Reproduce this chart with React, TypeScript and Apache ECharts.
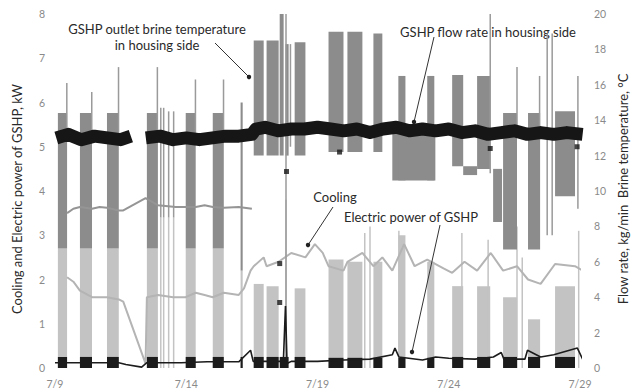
import React, { useEffect, useRef } from 'react';
import * as echarts from 'echarts';

// x values are days counted from 7/9 (0 = 7/9, 20 = 7/29)
const xTickLabels: Record<number, string> = { 0: '7/9', 5: '7/14', 10: '7/19', 15: '7/24', 20: '7/29' };

// GSHP outlet brine temperature (°C, right axis): cycling envelopes [startDay, endDay, low, high]
const brineBlocks: number[][] = [
  [0.11, 0.46, 6.75, 14.4], [0.95, 1.41, 6.75, 14.4], [1.98, 2.43, 6.75, 14.4],
  [3.5, 3.92, 6.75, 14.4], [4.98, 5.36, 6.75, 14.4], [6.01, 6.43, 6.75, 14.4],
  [7.07, 7.15, 5.5, 15.0],
  [7.57, 7.95, 12.0, 18.5], [8.06, 8.52, 12.0, 18.5], [8.56, 8.71, 12.0, 20.0],
  [8.78, 8.9, 12.0, 18.3], [9.13, 9.54, 12.0, 18.4], [10.42, 10.99, 12.2, 19.0],
  [11.14, 11.71, 12.2, 19.0], [12.13, 12.47, 12.2, 18.9],
  [12.85, 14.49, 10.6, 13.5], [13.08, 13.35, 10.6, 16.5], [14.18, 14.45, 10.6, 16.5],
  [15.13, 15.55, 11.4, 16.55], [15.55, 16.08, 10.9, 11.4], [16.08, 16.58, 11.25, 16.5],
  [16.69, 17.03, 8.25, 11.25], [17.07, 17.6, 6.7, 14.4], [18.02, 18.48, 6.7, 14.4],
  [19.05, 19.81, 9.7, 14.5],
];
// short spikes of the brine temperature [day, low, high]
const brineSpikes: number[][] = [
  [0.45, 13, 16.1], [1.4, 13, 15.6], [2.42, 13, 17.0], [3.9, 13, 17.0],
  [4.03, 8.5, 14.7], [4.14, 8.5, 14.7], [4.33, 8.5, 14.5], [4.52, 8.5, 14.5],
  [5.35, 13, 16.3], [6.42, 13, 16.3], [8.8, 0, 20], [8.97, 12.5, 18.3],
  [16.58, 11, 20], [17.6, 13, 17], [18.46, 13, 16.5], [18.75, 7.5, 18.9],
  [18.94, 7.5, 18.9], [19.92, 9, 16.5], [20.05, 9, 16.5],
];
// brine temperature while the GSHP is idle (°C)
const brineIdle: number[][] = [
  [0.46, 8.75], [0.7, 9.0], [0.95, 9.1], [1.41, 9.0], [1.7, 9.1], [1.98, 9.05], [2.43, 8.9],
  [2.6, 8.9], [3.45, 9.6], [3.92, 9.2], [4.6, 9.1], [4.98, 9.1], [5.36, 9.1], [5.7, 9.2],
  [6.01, 9.1], [6.43, 9.05], [7.0, 9.1], [7.5, 9.0],
];

// GSHP flow rate in housing side (kg/min, right axis)
const flowRate: (number[] | null)[] = [
  [0.05, 13.0], [0.5, 13.2], [1.0, 12.9], [1.5, 13.1], [2.0, 13.0], [2.5, 12.9], [2.89, 13.1], null,
  [3.46, 13.0], [4.0, 13.1], [4.5, 12.9], [5.0, 13.0], [5.5, 12.9], [6.0, 13.0], [6.5, 13.1],
  [7.0, 13.1], [7.5, 13.2], [7.65, 13.5], [8.0, 13.6], [8.5, 13.4], [9.0, 13.5], [9.5, 13.5],
  [10.0, 13.6], [10.5, 13.5], [11.0, 13.4], [11.5, 13.5], [12.0, 13.3], [12.5, 13.5],
  [13.0, 13.6], [13.5, 13.4], [14.0, 13.5], [14.5, 13.4], [15.0, 13.5], [15.5, 13.3],
  [16.0, 13.4], [16.5, 13.2], [17.0, 13.3], [17.5, 13.4], [18.0, 13.2], [18.5, 13.3],
  [19.0, 13.2], [19.5, 13.3], [20.1, 13.2],
];
const flowOutliers: number[][] = [
  [8.82, 11.1], [8.56, 5.9], [8.56, 3.7], [10.84, 12.2], [16.58, 12.4], [19.89, 12.5],
];

// Cooling (kW, left axis): operating periods [startDay, endDay, high]
const coolingBlocks: number[][] = [
  [0.11, 0.46, 2.7], [0.95, 1.41, 2.7], [1.98, 2.43, 2.7], [3.5, 3.92, 2.7],
  [4.98, 5.36, 2.7], [6.01, 6.43, 2.7], [7.07, 7.15, 2.2],
  [7.57, 7.95, 1.9], [8.06, 8.52, 1.85], [9.13, 9.54, 1.8], [10.42, 10.99, 2.45],
  [11.14, 11.71, 2.4], [12.13, 12.47, 2.4], [13.08, 13.35, 3.0], [14.18, 14.45, 2.4],
  [15.13, 15.55, 1.85], [16.08, 16.58, 1.85], [17.07, 17.6, 1.6], [18.02, 18.48, 1.1],
  [19.05, 19.81, 1.85],
];
const coolingSpikes: number[][] = [
  [4.03, 3.4], [4.14, 3.4], [4.33, 3.4], [4.52, 3.4], [8.8, 3.8], [11.8, 3.05], [12.0, 3.2],
  [13.1, 3.1], [15.5, 3.05], [16.5, 2.9], [17.6, 3.2], [17.8, 2.5], [19.95, 3.1],
];
const coolingIdle: number[][] = [
  [0.46, 2.05], [0.7, 1.95], [0.95, 1.75], [1.41, 1.6], [1.7, 1.6], [1.98, 1.6], [2.43, 1.55],
  [2.6, 1.5], [3.45, 0.1], [3.5, 1.6], [3.92, 1.65], [4.5, 1.6], [4.98, 1.6], [5.36, 1.7],
  [5.7, 1.65], [6.01, 1.6], [6.43, 1.7], [7.0, 1.65], [7.2, 1.8], [7.45, 2.2], [7.57, 2.3],
  [7.95, 2.5], [8.06, 2.3], [8.52, 2.4], [9.0, 2.6], [9.54, 2.5], [9.9, 2.8], [10.2, 2.6],
  [10.42, 2.3], [10.99, 2.2], [11.14, 2.4], [11.71, 2.6], [12.13, 2.3], [12.47, 2.5],
  [12.85, 2.2], [13.3, 2.8], [13.7, 2.3], [14.18, 2.45], [14.8, 2.25], [15.13, 2.15],
  [15.6, 2.4], [16.08, 2.2], [16.6, 2.6], [17.07, 2.2], [17.6, 2.3], [18.02, 2.0],
  [18.5, 1.9], [19.05, 2.35], [19.81, 2.3], [20.1, 2.2],
];

// Electric power of GSHP (kW, left axis)
const powerBlocks: number[][] = [
  [0.11, 0.46, 0.25], [0.95, 1.41, 0.25], [1.98, 2.43, 0.25], [3.5, 3.92, 0.25],
  [4.98, 5.36, 0.25], [6.01, 6.43, 0.25], [7.07, 7.15, 0.25],
  [7.57, 7.95, 0.25], [8.06, 8.52, 0.25], [8.56, 8.9, 0.25], [9.13, 9.54, 0.25],
  [10.42, 10.99, 0.23], [11.14, 11.71, 0.23], [12.13, 12.47, 0.23], [13.08, 13.35, 0.23],
  [14.18, 14.45, 0.23], [15.13, 15.55, 0.25], [16.08, 16.58, 0.25], [17.07, 17.6, 0.25],
  [18.02, 18.48, 0.25], [19.05, 19.81, 0.25],
];
const powerIdle: number[][] = [
  [0.0, 0.12], [2.43, 0.12], [2.7, 0.08], [3.3, 0.02], [3.5, 0.12], [4.8, 0.12], [5.8, 0.14],
  [7.0, 0.14], [7.45, 0.4], [7.55, 0.15], [8.7, 0.15], [8.78, 1.4], [8.84, 0.1], [9.0, 0.15],
  [10.0, 0.15], [11.0, 0.18], [12.0, 0.2], [12.85, 0.3], [12.95, 0.45], [13.1, 0.25],
  [14.0, 0.18], [14.5, 0.25], [15.0, 0.22], [16.0, 0.2], [16.7, 0.25], [17.0, 0.35],
  [17.1, 0.2], [17.9, 0.2], [18.0, 0.4], [18.5, 0.25], [19.0, 0.3], [19.9, 0.45], [20.1, 0.2],
];

const FONT = 'Lato, "Open Sans", sans-serif';

function rectRenderer(color: string) {
  return (_p: any, api: any) => {
    const a = api.coord([api.value(0), api.value(3)]);
    const b = api.coord([api.value(1), api.value(2)]);
    return {
      type: 'rect',
      shape: { x: a[0], y: a[1], width: Math.max(b[0] - a[0], 1.2), height: Math.max(b[1] - a[1], 1) },
      style: { fill: color },
    };
  };
}
function spikeRenderer(color: string, w: number) {
  return (_p: any, api: any) => {
    const a = api.coord([api.value(0), api.value(2)]);
    const b = api.coord([api.value(0), api.value(1)]);
    return {
      type: 'rect',
      shape: { x: a[0] - w / 2, y: a[1], width: w, height: b[1] - a[1] },
      style: { fill: color },
    };
  };
}

export default function App() {
  const ref = useRef<HTMLDivElement>(null);
  useEffect(() => {
    if (!ref.current) return;
    const chart = echarts.init(ref.current, undefined, { renderer: 'svg' });
    const tickLabel = { color: '#8a8a8a', fontSize: 10.5, fontFamily: FONT };
    const textStyle = { fill: '#2a2a2a', fontSize: 13, fontFamily: FONT };
    chart.setOption({
      animation: false,
      backgroundColor: '#fff',
      grid: { left: 55, right: 51, top: 14, bottom: 24 },
      xAxis: {
        type: 'value', min: 0, max: 20, interval: 5,
        axisLine: { show: false }, axisTick: { show: false }, splitLine: { show: false },
        axisLabel: { ...tickLabel, margin: 10, formatter: (v: number) => xTickLabels[v] ?? '' },
      },
      yAxis: [
        {
          type: 'value', min: 0, max: 8, interval: 1,
          axisLine: { show: false }, axisTick: { show: false }, splitLine: { show: false },
          axisLabel: { ...tickLabel, margin: 10 },
        },
        {
          type: 'value', min: 0, max: 20, interval: 2, position: 'right',
          axisLine: { show: false }, axisTick: { show: false }, splitLine: { show: false },
          axisLabel: { ...tickLabel, margin: 14, align: 'left' },
        },
      ],
      series: [
        {
          name: 'Cooling blocks', type: 'custom', yAxisIndex: 0, z: 1, clip: true,
          renderItem: rectRenderer('#c3c3c3'),
          encode: { x: [0, 1], y: [2, 3] },
          data: coolingBlocks.map(([a, b, h]) => [a, b, 0, h]),
        },
        {
          name: 'Cooling spikes', type: 'custom', yAxisIndex: 0, z: 1, clip: true,
          renderItem: spikeRenderer('#c3c3c3', 1.5),
          encode: { x: 0, y: [1, 2] },
          data: coolingSpikes.map(([d, h]) => [d, 0, h]),
        },
        {
          name: 'Cooling', type: 'line', yAxisIndex: 0, z: 2, symbol: 'none',
          lineStyle: { color: '#b4b4b4', width: 2 }, data: coolingIdle,
        },
        {
          name: 'Brine blocks', type: 'custom', yAxisIndex: 1, z: 3, clip: true,
          renderItem: rectRenderer('#8c8c8c'),
          encode: { x: [0, 1], y: [2, 3] },
          data: brineBlocks,
        },
        {
          name: 'Brine spikes', type: 'custom', yAxisIndex: 1, z: 3, clip: true,
          renderItem: spikeRenderer('#9a9a9a', 1.5),
          encode: { x: 0, y: [1, 2] },
          data: brineSpikes,
        },
        {
          name: 'GSHP outlet brine temperature in housing side', type: 'line', yAxisIndex: 1, z: 3,
          symbol: 'none', lineStyle: { color: '#959595', width: 2 }, data: brineIdle,
        },
        {
          name: 'Electric blocks', type: 'custom', yAxisIndex: 0, z: 5, clip: true,
          renderItem: rectRenderer('#1c1c1c'),
          encode: { x: [0, 1], y: [2, 3] },
          data: powerBlocks.map(([a, b, h]) => [a, b, 0, h]),
        },
        {
          name: 'Electric power of GSHP', type: 'line', yAxisIndex: 0, z: 5, symbol: 'none',
          lineStyle: { color: '#1c1c1c', width: 1.6 }, data: powerIdle,
        },
        {
          name: 'GSHP flow rate in housing side', type: 'line', yAxisIndex: 1, z: 6, symbol: 'none',
          connectNulls: false,
          lineStyle: { color: '#161616', width: 13, cap: 'butt', join: 'round' }, data: flowRate,
        },
        {
          name: 'Flow outliers', type: 'scatter', yAxisIndex: 1, z: 7, symbol: 'rect', symbolSize: 5,
          itemStyle: { color: '#161616' }, data: flowOutliers,
        },
      ],
      graphic: [
        { type: 'text', x: 17, y: 199, rotation: Math.PI / 2, style: { ...textStyle, text: 'Cooling and Electric power of GSHP, kW', align: 'center', verticalAlign: 'middle' } },
        { type: 'text', x: 623, y: 189, rotation: Math.PI / 2, style: { ...textStyle, text: 'Flow rate, kg/min  Brine temperature, °C', align: 'center', verticalAlign: 'middle' } },
        { type: 'text', x: 157, y: 29, style: { ...textStyle, text: 'GSHP outlet brine temperature', align: 'center', verticalAlign: 'middle' } },
        { type: 'text', x: 157, y: 45, style: { ...textStyle, text: 'in housing side', align: 'center', verticalAlign: 'middle' } },
        { type: 'text', x: 488, y: 32, style: { ...textStyle, text: 'GSHP flow rate in housing side', align: 'center', verticalAlign: 'middle' } },
        { type: 'text', x: 335, y: 197, style: { ...textStyle, text: 'Cooling', align: 'center', verticalAlign: 'middle' } },
        { type: 'text', x: 411, y: 217, style: { ...textStyle, text: 'Electric power of GSHP', align: 'center', verticalAlign: 'middle' } },
        { type: 'line', z: 20, shape: { x1: 215, y1: 43, x2: 249, y2: 77 }, style: { stroke: '#333', lineWidth: 1 } },
        { type: 'circle', z: 20, shape: { cx: 249, cy: 77, r: 2.2 }, style: { fill: '#222' } },
        { type: 'line', z: 20, shape: { x1: 434, y1: 37, x2: 414, y2: 122 }, style: { stroke: '#333', lineWidth: 1 } },
        { type: 'circle', z: 20, shape: { cx: 414, cy: 122, r: 2.2 }, style: { fill: '#222' } },
        { type: 'line', z: 20, shape: { x1: 333, y1: 207, x2: 308, y2: 245 }, style: { stroke: '#333', lineWidth: 1 } },
        { type: 'circle', z: 20, shape: { cx: 308, cy: 245, r: 2.2 }, style: { fill: '#222' } },
        { type: 'line', z: 20, shape: { x1: 440, y1: 225, x2: 412, y2: 352 }, style: { stroke: '#333', lineWidth: 1 } },
        { type: 'circle', z: 20, shape: { cx: 412, cy: 352, r: 2.2 }, style: { fill: '#222' } },
      ],
    });
    return () => chart.dispose();
  }, []);
  return <div ref={ref} style={{ position: 'fixed', left: 0, top: 0, width: 631, height: 392 }} />;
}
